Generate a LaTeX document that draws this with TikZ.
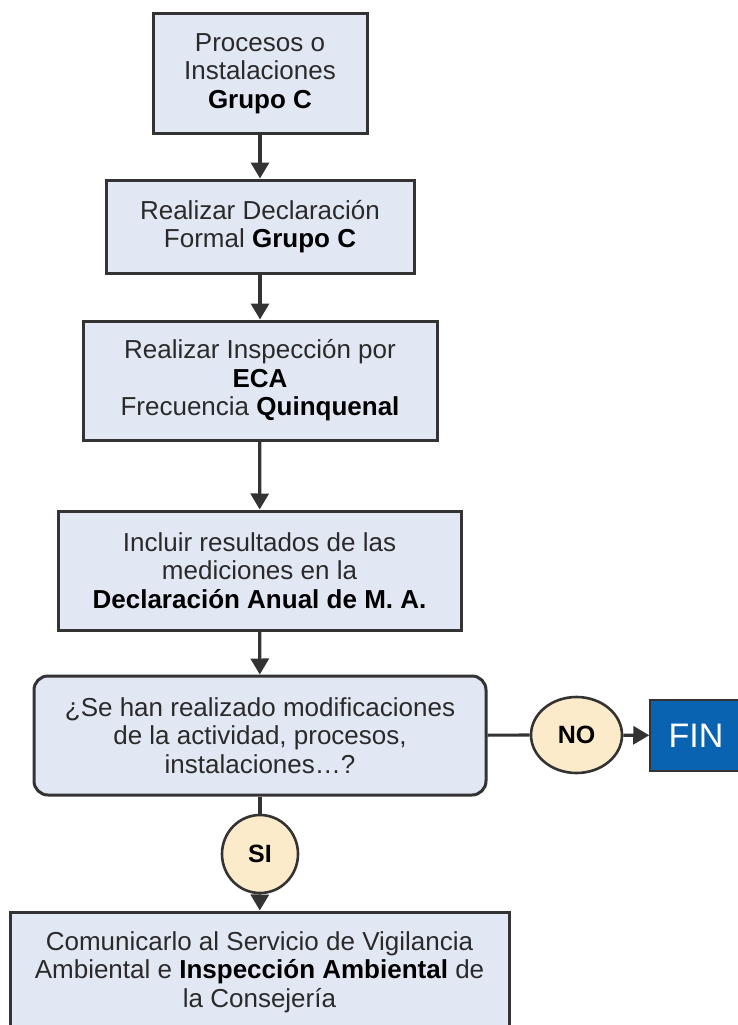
\documentclass[tikz,border=0pt]{standalone}
\usepackage{fontspec}
\setmainfont{Liberation Sans}
\usetikzlibrary{arrows.meta,shapes.geometric}
\definecolor{boxfill}{HTML}{E1E8F4}
\definecolor{boxline}{HTML}{333333}
\definecolor{circfill}{HTML}{FCEBCB}
\definecolor{finblue}{HTML}{0A63B0}
\definecolor{txt}{HTML}{2A2A2A}
\tikzset{
  procbox/.style={draw=boxline, line width=3pt, fill=boxfill, inner sep=0pt, align=center, text=txt,
    font=\fontsize{26}{28.5}\selectfont},
  decbox/.style={procbox, rounded corners=14pt},
  yesno/.style={ellipse, draw=boxline, line width=2.6pt, fill=circfill, inner sep=0pt,
    font=\fontsize{25}{28.5}\selectfont\bfseries, text=black},
  finbox/.style={draw=boxline, line width=1.5pt, fill=finblue, inner sep=0pt, text=white,
    font=\fontsize{34}{36}\selectfont},
  conn/.style={draw=boxline, line width=3.2pt},
  arr/.style={conn, -{Triangle[length=16pt,width=18pt]}}
}
\begin{document}
\begin{tikzpicture}[x=1pt,y=-1pt]
\useasboundingbox (0,0) rectangle (737,1025);
\node[procbox, minimum width=214pt, minimum height=119pt] (b1) at (260,73.5)
  {Procesos o\\Instalaciones\\\textbf{\color{black}Grupo C}};
\node[procbox, minimum width=308pt, minimum height=93pt] (b2) at (260,226.5)
  {Realizar Declaración\\Formal \textbf{\color{black}Grupo C}};
\node[procbox, minimum width=354pt, minimum height=119pt] (b3) at (260,380.5)
  {Realizar Inspección por\\\textbf{\color{black}ECA}\\Frecuencia \textbf{\color{black}Quinquenal}};
\node[procbox, minimum width=403pt, minimum height=119pt] (b4) at (259.5,570.5)
  {Incluir resultados de las\\mediciones en la\\\textbf{\color{black}Declaración Anual de M. A.}};
\node[decbox, minimum width=452pt, minimum height=119pt] (d) at (260,735.5)
  {¿Se han realizado modificaciones\\de la actividad, procesos,\\instalaciones…?};
\node[yesno, minimum width=91pt, minimum height=76pt] (no) at (576.5,735) {NO};
\node[finbox, minimum width=92pt, minimum height=71pt] (fin) at (696,735.5) {FIN};
\node[yesno, minimum width=76pt, minimum height=78pt] (si) at (260,854) {SI};
\node[procbox, minimum width=499pt, minimum height=120pt] (b5) at (259.5,972)
  {Comunicarlo al Servicio de Vigilancia\\Ambiental e \textbf{\color{black}Inspección Ambiental} de\\la Consejería};
\draw[arr] (b1) -- (b2);
\draw[arr] (b2) -- (b3);
\draw[arr] (b3) -- (b4);
\draw[arr] (b4) -- (d);
\draw[conn] (d) -- (no);
\draw[arr] (no) -- (fin);
\draw[conn] (d) -- (si);
\draw[arr] (si) -- (b5);
\end{tikzpicture}
\end{document}
